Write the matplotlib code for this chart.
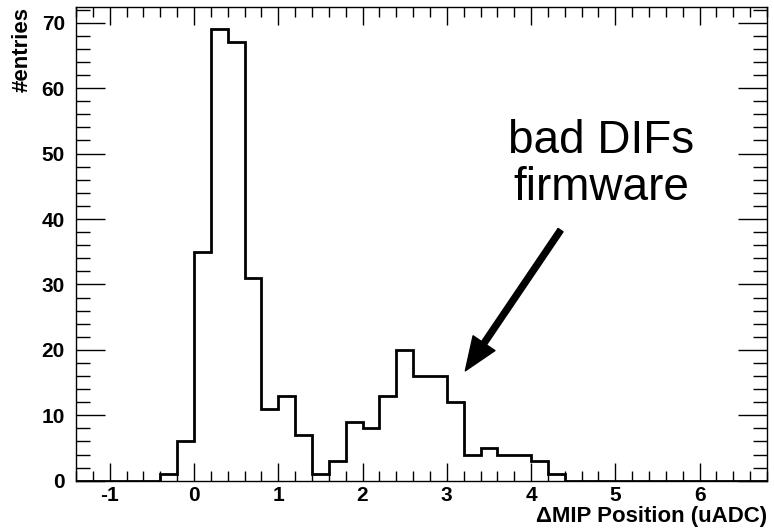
import numpy as np
import matplotlib
matplotlib.use("Agg")
import matplotlib.pyplot as plt
from matplotlib.ticker import MultipleLocator

plt.rcParams['font.family'] = ['Liberation Sans', 'DejaVu Sans']
plt.rcParams['axes.unicode_minus'] = False

# histogram: bin edges from -1.4 to 6.8 with width 0.2
x_min = -1.4
bin_width = 0.2
counts = [0, 0, 0, 0, 0, 1, 6, 35, 69, 67, 31, 11, 13, 7, 1, 3, 9, 8, 13, 20,
          16, 16, 12, 4, 5, 4, 4, 3, 1, 0, 0, 0, 0, 0, 0, 0, 0, 0, 0, 0, 0]
edges = x_min + bin_width * np.arange(len(counts) + 1)

x_label = "\u0394MIP Position (uADC)"
y_label = "#entries"
note = "bad DIFs\nfirmware"

fig = plt.figure(figsize=(7.74, 5.32), dpi=100)
ax = fig.add_axes([0.0982, 0.0964, 0.991 - 0.0982, 0.9874 - 0.0964])

ax.stairs(counts, edges, baseline=0, color="black", linewidth=2)

ax.set_xlim(edges[0], edges[-1])
ax.set_ylim(0, max(counts) * 1.05)

# ROOT-like ticks on all sides, pointing inwards
ax.xaxis.set_major_locator(MultipleLocator(1))
ax.xaxis.set_minor_locator(MultipleLocator(0.2))
ax.yaxis.set_major_locator(MultipleLocator(10))
ax.yaxis.set_minor_locator(MultipleLocator(2))
ax.tick_params(which="both", direction="in", top=True, right=True, width=1)
ax.tick_params(axis="x", which="major", length=13, pad=4)
ax.tick_params(axis="x", which="minor", length=7)
ax.tick_params(axis="y", which="major", length=21, pad=8)
ax.tick_params(axis="y", which="minor", length=10)
for lbl in ax.get_xticklabels() + ax.get_yticklabels():
    lbl.set_fontweight("bold")
    lbl.set_fontsize(15)
for s in ax.spines.values():
    s.set_linewidth(1)

ax.set_xlabel(x_label, fontsize=16, fontweight="bold", loc="right")
ax.set_ylabel(y_label, fontsize=16, fontweight="bold", loc="top")
ax.xaxis.set_label_coords(1.0, -0.053)
ax.yaxis.set_label_coords(-0.063, 1.0)

ax.text(4.83, 48.3, note, fontsize=33, ha="center", va="center", linespacing=1.1)
ax.annotate("", xy=(3.22, 16.8), xytext=(4.35, 38.3),
            arrowprops=dict(facecolor="black", edgecolor="black", width=4.3,
                            headwidth=19, headlength=24, shrink=0))

fig.savefig("out.png", dpi=100)
